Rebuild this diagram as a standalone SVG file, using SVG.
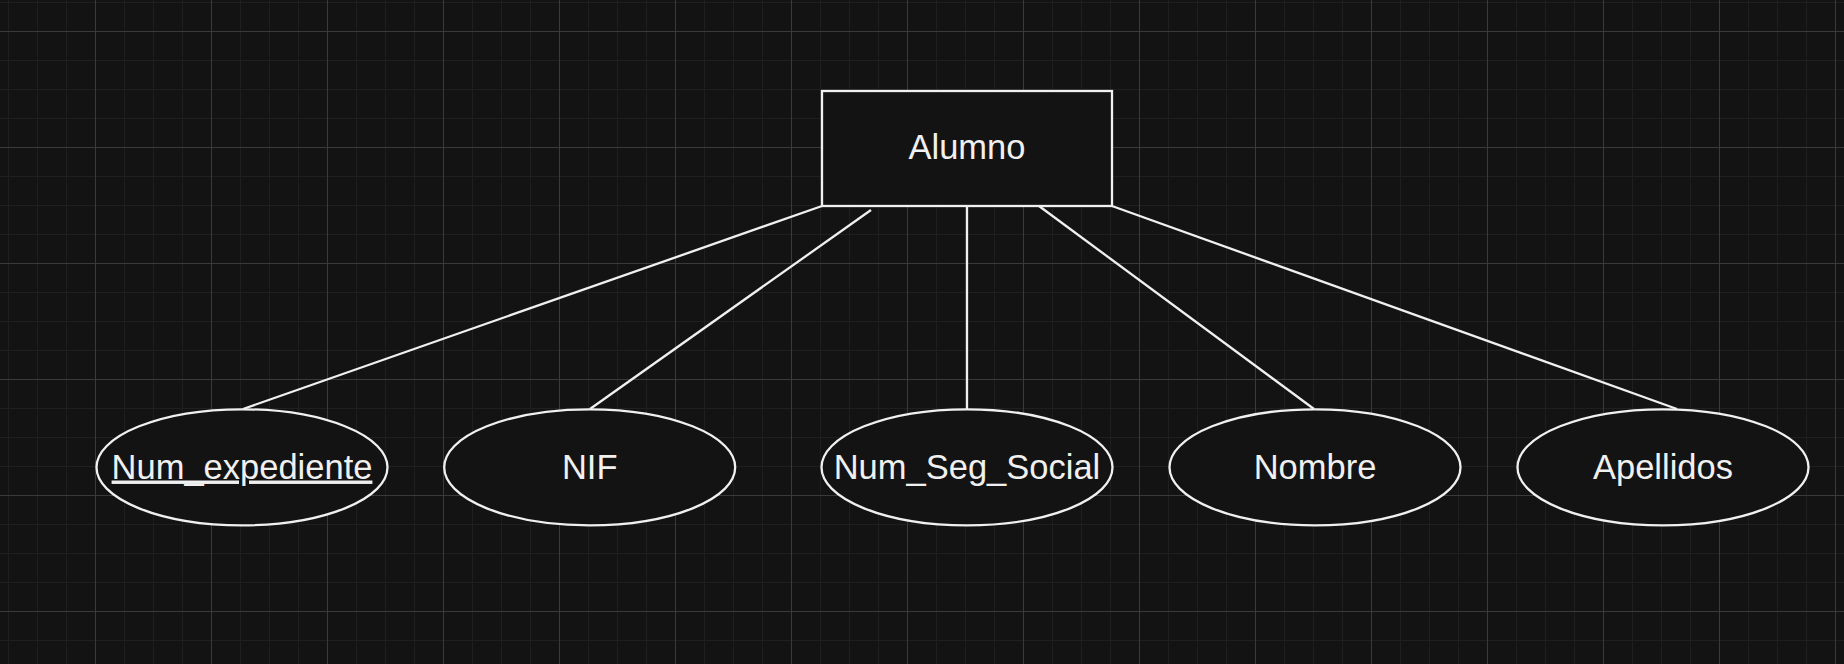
<svg xmlns="http://www.w3.org/2000/svg" width="1844" height="664" viewBox="0 0 1844 664">
<style>
.shape{fill:#131313;stroke:#f0f0f0;stroke-width:2.3}
.conn line{stroke:#f0f0f0;stroke-width:2.3;fill:none}
.lbl{font-family:"Liberation Sans",Arial,sans-serif;font-size:34.5px;fill:#f0f0f0;text-anchor:middle}
</style>
<defs>
<pattern id="grid" patternUnits="userSpaceOnUse" x="-21" y="-85" width="116" height="116">
<path d="M29.5 0V116M58.5 0V116M87.5 0V116M0 29.5H116M0 58.5H116M0 87.5H116" stroke="#1f1f1f" stroke-width="1" fill="none"/>
<path d="M0.5 0V116M0 0.5H116" stroke="#3a3a3a" stroke-width="1" fill="none"/>
</pattern>
</defs>
<rect width="1844" height="664" fill="#131313"/>
<rect width="1844" height="664" fill="url(#grid)"/>
<g id="connectors" class="conn">
<line x1="822" y1="206" x2="243" y2="409"/>
<line x1="871" y1="210" x2="590" y2="409"/>
<line x1="967" y1="206" x2="967" y2="409"/>
<line x1="1039" y1="206" x2="1314" y2="409"/>
<line x1="1112" y1="206" x2="1677" y2="409"/>
</g>
<g id="alumno">
<rect class="shape" x="822" y="91" width="290" height="115"/>
<text class="lbl" x="967" y="159">Alumno</text>
</g>
<g id="num_expediente">
<ellipse class="shape" cx="242" cy="467.3" rx="145.5" ry="58"/>
<text class="lbl" x="242" y="478.5" text-decoration="underline">Num_expediente</text>
</g>
<g id="nif">
<ellipse class="shape" cx="589.7" cy="467.3" rx="145.5" ry="58"/>
<text class="lbl" x="589.7" y="478.5">NIF</text>
</g>
<g id="num_seg_social">
<ellipse class="shape" cx="967" cy="467.3" rx="145.5" ry="58"/>
<text class="lbl" x="967" y="478.5">Num_Seg_Social</text>
</g>
<g id="nombre">
<ellipse class="shape" cx="1315" cy="467.3" rx="145.5" ry="58"/>
<text class="lbl" x="1315" y="478.5">Nombre</text>
</g>
<g id="apellidos">
<ellipse class="shape" cx="1663" cy="467.3" rx="145.5" ry="58"/>
<text class="lbl" x="1663" y="478.5">Apellidos</text>
</g>
</svg>
